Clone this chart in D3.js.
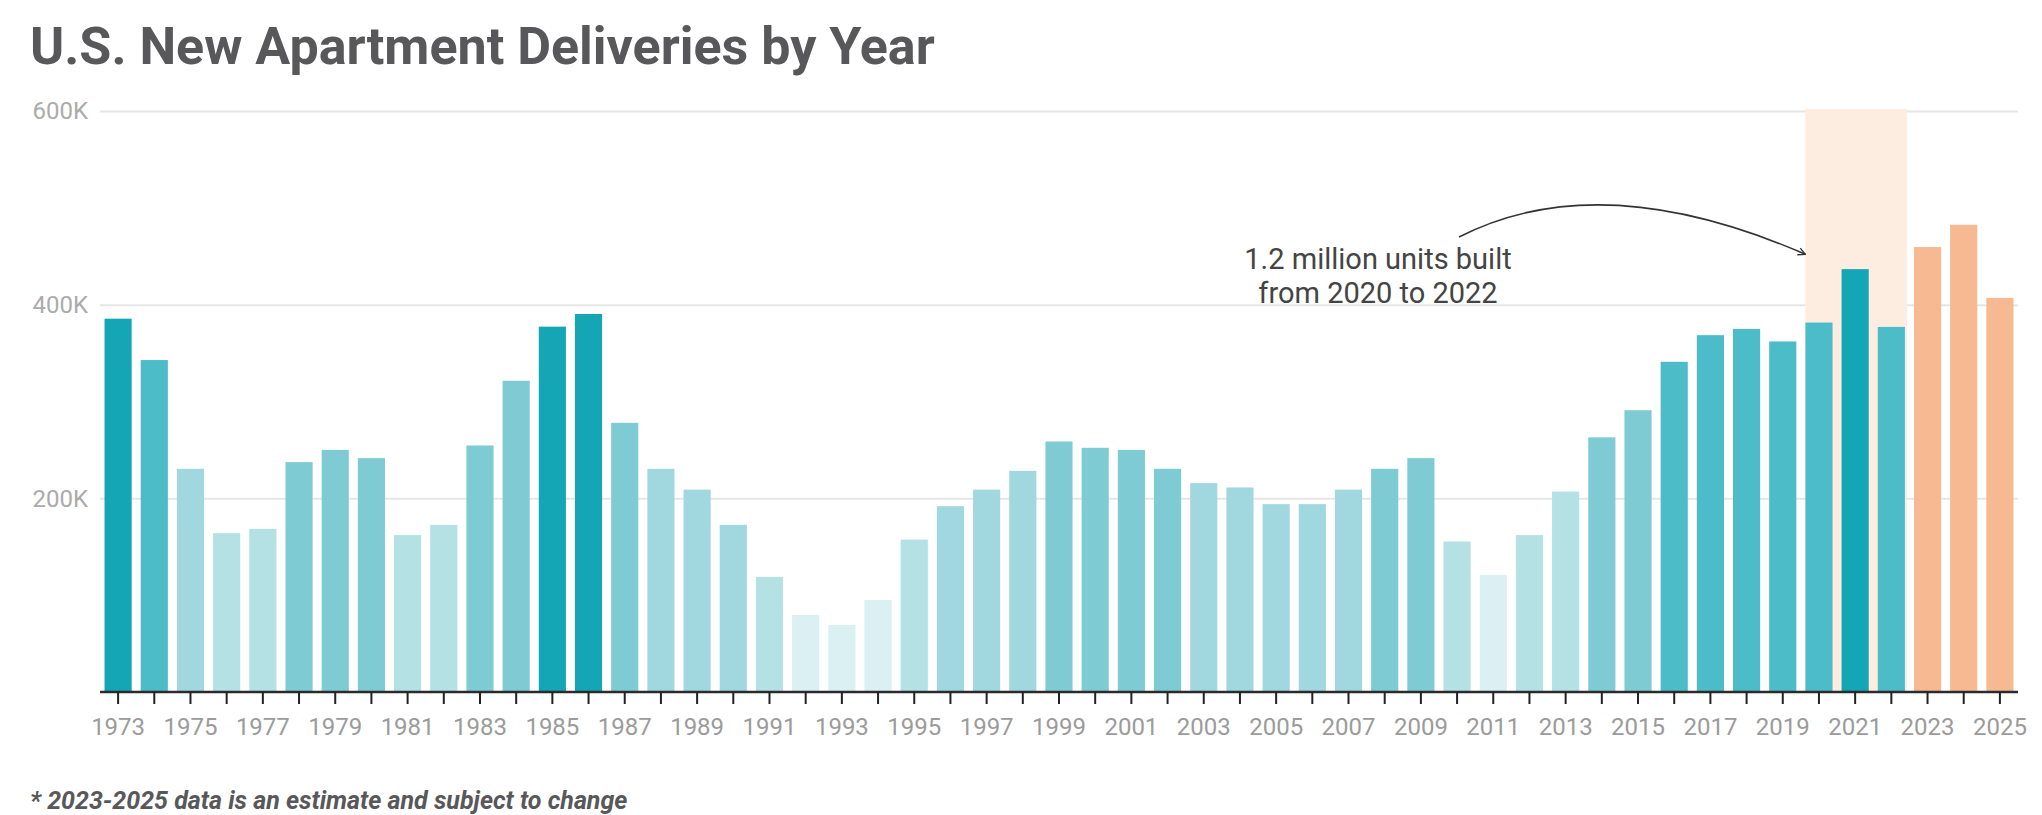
<!DOCTYPE html>
<html>
<head>
<meta charset="utf-8">
<script src="https://cdn.jsdelivr.net/npm/d3@7/dist/d3.min.js"></script>
<style>
  html, body { margin: 0; padding: 0; background: #fff; }
  svg { display: block; font-family: Roboto, 'Noto Sans', sans-serif; }
</style>
</head>
<body>
<div id="chart"></div>
<script>
// ── Data ──────────────────────────────────────────────────────────────────────
const years = d3.range(1973, 2026).map(String)
const deliveries = [
  385500, 342800, 230500, 164000, 168500, 237400, 250000, 241500, 162000, 172600,
  254600, 321400, 377300, 390400, 278000, 230500, 209000, 172600, 118900, 79600,
  69300, 95000, 157400, 191900, 209000, 228400, 258700, 252200, 250000, 230500,
  215700, 211200, 194000, 194000, 209000, 230500, 241500, 155400, 121000, 162000,
  207000, 263000, 291000, 341000, 368500, 375000, 362000, 381500, 436700, 377000,
  459500, 482500, 407000,
]
// shade bucket per bar (0 = lightest teal … 5 = darkest, 6 = estimate)
const shade = [
  5, 4, 2, 1, 1, 3, 3, 3, 1, 1,
  3, 3, 5, 5, 3, 2, 2, 2, 1, 0,
  0, 0, 1, 2, 2, 2, 3, 3, 3, 3,
  2, 2, 2, 2, 2, 3, 3, 1, 0, 1,
  1, 3, 3, 4, 4, 4, 4, 4, 5, 4,
  6, 6, 6,
]
const shadeColors = ['#daf0f2', '#b3e1e4', '#a1d7df', '#7fcbd4', '#4bbcc8', '#15a6b5', '#f6b991']
const yTicks = [200000, 400000, 600000]
const highlightYears = ['2020', '2022']
const noteLines = ['1.2 million units built', 'from 2020 to 2022']

const data = years.map((y, i) => ({ year: y, value: deliveries[i], shade: shade[i] }))

// ── Dimensions ────────────────────────────────────────────────────────────────
const W = 2042, H = 815
const mLeft = 100, mRight = 2018, mTop = 111, mBottom = 692

const svg = d3.select('#chart').append('svg')
  .attr('width', W).attr('height', H)

const x = d3.scaleBand()
  .domain(years)
  .range([mLeft, mRight])
  .paddingInner(0.25)
  .paddingOuter(0.125)

const y = d3.scaleLinear()
  .domain([0, 600000])
  .range([mBottom, mTop])

// ── Title ─────────────────────────────────────────────────────────────────────
svg.append('text')
  .attr('x', 30).attr('y', 64)
  .attr('font-size', 52).attr('font-weight', 700)
  .attr('fill', '#58585a')
  .text('U.S. New Apartment Deliveries by Year')

// ── Grid + y labels ───────────────────────────────────────────────────────────
const yAxis = svg.append('g')
  .attr('transform', `translate(${mLeft},0)`)
  .call(d3.axisLeft(y).tickValues(yTicks).tickSize(-(mRight - mLeft)).tickPadding(12)
    .tickFormat(d => d3.format('~s')(d).replace('k', 'K')))
yAxis.select('.domain').remove()
yAxis.selectAll('.tick line').attr('stroke', '#e6e6e6').attr('stroke-width', 2)
yAxis.selectAll('.tick text')
  .attr('font-size', 24).attr('fill', '#ababab')
  .attr('font-family', 'Roboto, sans-serif')

// ── Highlight band 2020–2022 ──────────────────────────────────────────────────
const hx0 = x(highlightYears[0])
const hx1 = x(highlightYears[1]) + x.bandwidth()
svg.append('rect')
  .attr('x', hx0).attr('width', hx1 - hx0 + 2)
  .attr('y', y(600000) - 2).attr('height', mBottom - y(600000) + 2)
  .attr('fill', '#fdede1')

// ── Bars ──────────────────────────────────────────────────────────────────────
svg.append('g')
  .selectAll('rect')
  .data(data)
  .join('rect')
  .attr('x', d => x(d.year))
  .attr('width', x.bandwidth())
  .attr('y', d => y(d.value))
  .attr('height', d => y(0) - y(d.value))
  .attr('fill', d => shadeColors[d.shade])

// ── X axis ────────────────────────────────────────────────────────────────────
const xAxis = svg.append('g')
  .attr('transform', `translate(0,${mBottom})`)
  .call(d3.axisBottom(x).tickSize(12).tickPadding(14).tickSizeOuter(0)
    .tickFormat(d => (+d % 2 === 1 ? d : '')))
xAxis.select('.domain').attr('stroke', '#2b2b2b').attr('stroke-width', 2.5)
  .attr('d', `M${mLeft},0H${mRight}`)
xAxis.selectAll('.tick line').attr('stroke', '#222').attr('stroke-width', 2)
xAxis.selectAll('.tick text')
  .attr('font-size', 24).attr('fill', '#9b9b9b')
  .attr('font-family', 'Roboto, sans-serif')

// ── Annotation ────────────────────────────────────────────────────────────────
const defs = svg.append('defs')
defs.append('marker')
  .attr('id', 'arrow')
  .attr('viewBox', '0 0 10 10')
  .attr('refX', 9).attr('refY', 5)
  .attr('markerWidth', 9).attr('markerHeight', 9)
  .attr('orient', 'auto-start-reverse')
  .attr('markerUnits', 'userSpaceOnUse')
  .append('path')
  .attr('d', 'M1,1L9,5L1,9')
  .attr('fill', 'none').attr('stroke', '#333').attr('stroke-width', 1.5)

const tip = [hx0, y(452000)]
const start = [1459, 237]
svg.append('path')
  .attr('d', `M${start[0]},${start[1]}Q1600,165 ${tip[0]},${tip[1]}`)
  .attr('fill', 'none')
  .attr('stroke', '#333')
  .attr('stroke-width', 1.6)
  .attr('marker-end', 'url(#arrow)')

svg.append('g')
  .selectAll('text')
  .data(noteLines)
  .join('text')
  .attr('x', 1378)
  .attr('y', (d, i) => 269 + i * 34)
  .attr('text-anchor', 'middle')
  .attr('font-size', 29)
  .attr('fill', '#444')
  .text(d => d)

// ── Footnote ──────────────────────────────────────────────────────────────────
svg.append('text')
  .attr('x', 30).attr('y', 809)
  .attr('font-size', 25).attr('font-weight', 700).attr('font-style', 'italic')
  .attr('fill', '#58585a')
  .text('* 2023-2025 data is an estimate and subject to change')
</script>
</body>
</html>
